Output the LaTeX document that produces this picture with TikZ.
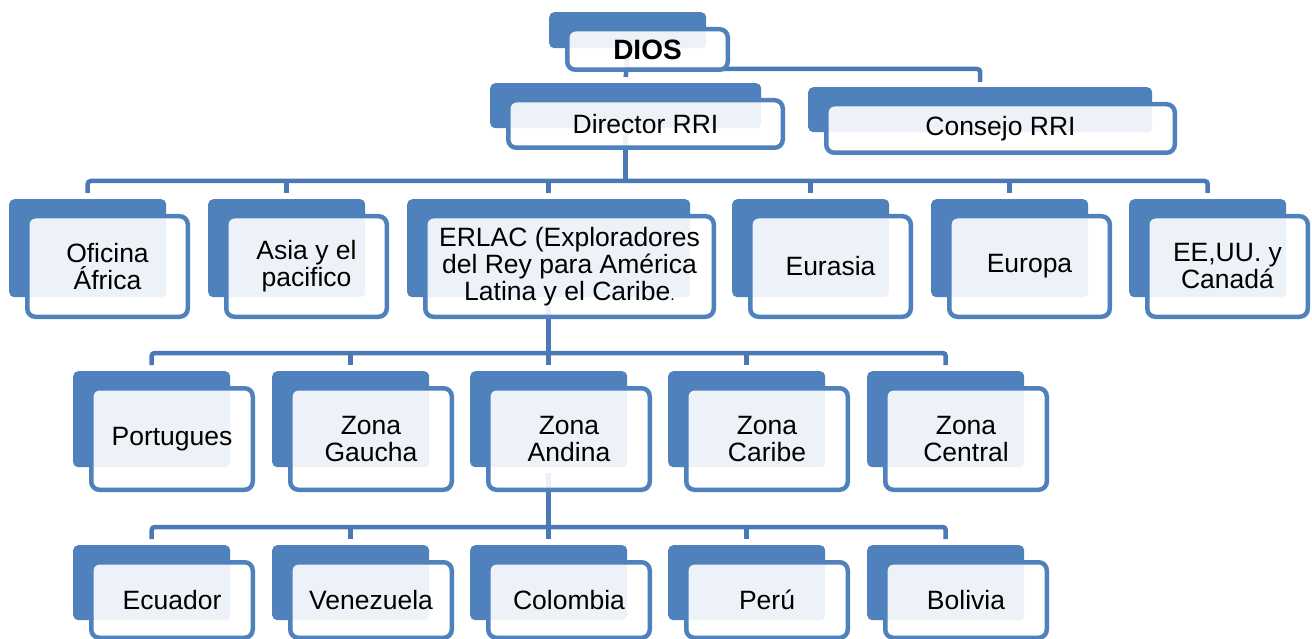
\documentclass[tikz,border=0pt]{standalone}
\usepackage{fontspec}
\setmainfont{Liberation Sans}
\usepackage{tikz}
\pgfdeclarelayer{fondo}
\pgfsetlayers{fondo,main}

\definecolor{azul}{HTML}{4F81BD}
\definecolor{linea}{HTML}{4A7AB5}

\tikzset{
  atras/.style={fill=azul, rounded corners=5pt, inner sep=0pt},
  frente/.style={draw=azul, line width=4.5pt, fill=white, fill opacity=0.9, text opacity=1,
    rounded corners=8pt, inner sep=0pt, align=center, font=\fontsize{26.5}{27}\selectfont},
  conector/.style={draw=linea, line width=4.5pt},
}

% caja: nombre, x, y, ancho/alto de atras, ancho/alto de frente, texto
\newcommand{\caja}[8]{%
  \node[atras, anchor=north west, minimum width=#4pt, minimum height=#5pt] (#1-b) at (#2,#3) {};
  \node[frente, anchor=north west, minimum width=#6pt, minimum height=#7pt] (#1) at (#2+16,#3+15) {#8};
}

\begin{document}
\begin{tikzpicture}[x=1pt,y=-1pt]
\useasboundingbox (0,0) rectangle (1312,639);

% arriba
\caja{dios}{549}{12}{157}{36}{160.5}{40.5}{\bfseries\fontsize{28}{30}\selectfont DIOS}
\caja{dir}{490}{83}{271}{45}{274.5}{47.5}{Director RRI}
\caja{cons}{808}{87}{344}{45}{348.5}{48.5}{Consejo RRI}

% regiones
\caja{ofi}{9}{199}{157}{98}{160.5}{100.5}{Oficina\\África}
\caja{asia}{208}{199}{157}{98}{160.5}{100.5}{Asia y el\\pacifico}
\caja{erlac}{407}{199}{283}{98}{288.5}{100.5}{ERLAC (Exploradores\\del Rey para América\\Latina y el Caribe{\fontsize{16}{16}\selectfont.}}
\caja{eura}{732}{199}{157}{98}{160.5}{100.5}{Eurasia}
\caja{euro}{931}{199}{157}{98}{160.5}{100.5}{Europa}
\caja{eeuu}{1129}{199}{157}{98}{160.5}{100.5}{EE,UU. y\\Canadá}

% zonas
\caja{port}{73}{371}{157}{96}{161.5}{101.5}{Portugues}
\caja{gau}{272}{371}{157}{96}{161.5}{101.5}{Zona\\Gaucha}
\caja{and}{470}{371}{157}{96}{161.5}{101.5}{Zona\\Andina}
\caja{car}{668}{371}{157}{96}{161.5}{101.5}{Zona\\Caribe}
\caja{cen}{867}{371}{157}{96}{161.5}{101.5}{Zona\\Central}

% paises
\caja{ecu}{73}{545}{157}{75}{161.5}{75.5}{Ecuador}
\caja{ven}{272}{545}{157}{75}{161.5}{75.5}{Venezuela}
\caja{col}{470}{545}{157}{75}{161.5}{75.5}{Colombia}
\caja{per}{668}{545}{157}{75}{161.5}{75.5}{Perú}
\caja{bol}{867}{545}{157}{75}{161.5}{75.5}{Bolivia}

\coordinate (h1) at (0,69);
\coordinate (h2) at (0,181);
\coordinate (h3) at (0,353);
\coordinate (h4) at (0,527);

\begin{pgfonlayer}{fondo}
\draw[conector] ([yshift=-6pt]dios-b.south) -- ([yshift=6pt]dir-b.north);
\draw[conector, rounded corners=3pt] (dios-b.south |- h1) -| ([yshift=5pt]cons-b.north);

\draw[conector] ([yshift=-6pt]dir-b.south) -- (dir-b.south |- h2);
\draw[conector, rounded corners=3pt] ([yshift=6pt]ofi-b.north) -- (ofi-b.north |- h2)
  -- (eeuu-b.north |- h2) -- ([yshift=6pt]eeuu-b.north);
\foreach \n in {asia,erlac,eura,euro}
  \draw[conector] (\n-b.north |- h2) -- ([yshift=6pt]\n-b.north);

\draw[conector] ([yshift=-6pt]erlac-b.south) -- (erlac-b.south |- h3);
\draw[conector, rounded corners=3pt] ([yshift=6pt]port-b.north) -- (port-b.north |- h3)
  -- (cen-b.north |- h3) -- ([yshift=6pt]cen-b.north);
\foreach \n in {gau,and,car}
  \draw[conector] (\n-b.north |- h3) -- ([yshift=6pt]\n-b.north);

\draw[conector] ([yshift=-6pt]and-b.south) -- (and-b.south |- h4);
\draw[conector, rounded corners=3pt] ([yshift=6pt]ecu-b.north) -- (ecu-b.north |- h4)
  -- (bol-b.north |- h4) -- ([yshift=6pt]bol-b.north);
\foreach \n in {ven,col,per}
  \draw[conector] (\n-b.north |- h4) -- ([yshift=6pt]\n-b.north);
\end{pgfonlayer}
\end{tikzpicture}
\end{document}
